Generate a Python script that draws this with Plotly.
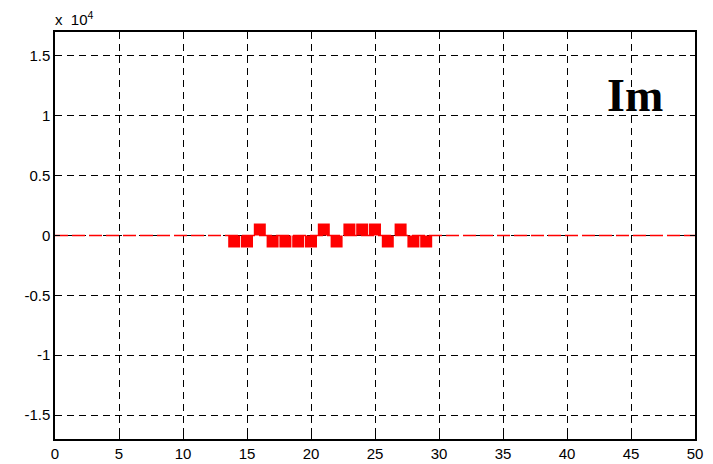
import plotly.graph_objects as go

# Imaginary part samples (non-zero bins only)
im_index = [14, 15, 16, 17, 18, 19, 20, 21, 22, 23, 24, 25, 26, 27, 28, 29]
im_values = [-500, -500, 500, -500, -500, -500, -500, 500,
             -500, 500, 500, 500, -500, 500, -500, -500]

# Zero baseline spans the full index range
baseline_x = [0, 50]
baseline_y = [0, 0]

x_ticks = [0, 5, 10, 15, 20, 25, 30, 35, 40, 45, 50]
y_ticks = [-15000, -10000, -5000, 0, 5000, 10000, 15000]
y_tick_text = ["-1.5", "-1", "-0.5", "0", "0.5", "1", "1.5"]

font_family = "Liberation Sans, Arial, sans-serif"

fig = go.Figure()

fig.add_trace(go.Scatter(
    x=baseline_x, y=baseline_y, mode="lines",
    line=dict(color="#ff0000", width=1.5, dash="13px,4px"),
    hoverinfo="skip", showlegend=False,
))

fig.add_trace(go.Scatter(
    x=im_index, y=im_values, mode="markers",
    marker=dict(symbol="square", size=12, color="#ff0000",
                line=dict(width=0)),
    showlegend=False,
))

axis_common = dict(
    showline=True, linecolor="black", linewidth=1.5, mirror="ticks",
    ticks="inside", ticklen=5, tickcolor="black", tickwidth=1,
    showgrid=True, gridcolor="black", gridwidth=1, griddash="7px,5px",
    zeroline=False, automargin=False,
    tickfont=dict(family=font_family, size=15, color="black"),
)

fig.update_xaxes(range=[0, 50], tickvals=x_ticks, **axis_common)
fig.update_yaxes(range=[-17000, 17000], tickvals=y_ticks,
                 ticktext=y_tick_text, **axis_common)

fig.add_annotation(
    x=45.3, y=9400, xref="x", yref="y", yanchor="bottom",
    text="<b>Im</b>", showarrow=False,
    font=dict(family="Liberation Serif, Times New Roman, serif",
              size=46, color="black"),
)

fig.add_annotation(
    x=0, y=1, xref="paper", yref="paper", xanchor="left", yanchor="bottom",
    xshift=-2, yshift=2, text="x\u00a0\u00a010<sup>4</sup>", showarrow=False,
    font=dict(family=font_family, size=15, color="black"),
)

fig.update_layout(
    width=713, height=464,
    margin=dict(l=55, r=18, t=32, b=25),
    paper_bgcolor="white", plot_bgcolor="white",
)

fig.write_html("out.html")
